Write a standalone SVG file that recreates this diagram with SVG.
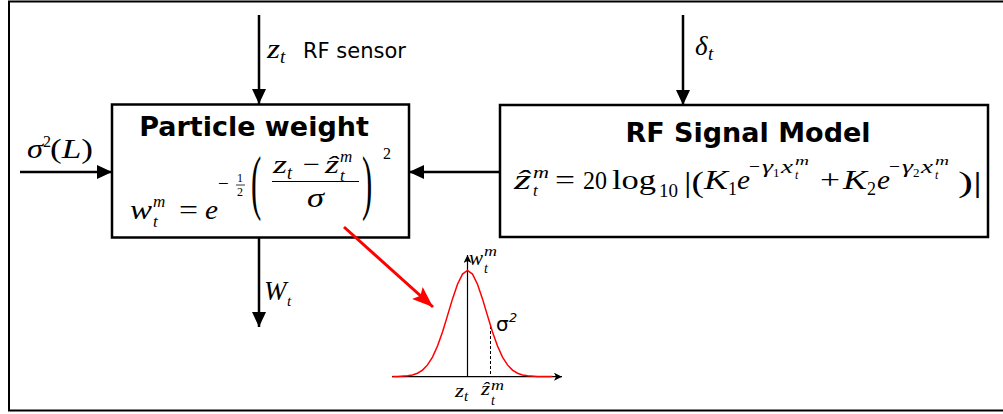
<svg xmlns="http://www.w3.org/2000/svg" width="1003" height="414" viewBox="0 0 1003 414">
<style>
.box{fill:#fff;stroke:#000;stroke-width:2.5}
.ln{stroke:#000;stroke-width:2.5;fill:none}
.mi{font-family:"Liberation Serif","DejaVu Serif",serif;font-style:italic;fill:#000}
.mr{font-family:"Liberation Serif","DejaVu Serif",serif;fill:#000}
.ti{font-family:"DejaVu Sans",sans-serif;font-weight:bold;fill:#000}
.sn{font-family:"DejaVu Sans",sans-serif;fill:#000}
</style>
<defs>
<marker id="ah" markerUnits="userSpaceOnUse" markerWidth="16" markerHeight="14" refX="15" refY="7" orient="auto">
<path d="M0,0 L15,7 L0,14 z" fill="#000"/>
</marker>
<marker id="ahr" markerUnits="userSpaceOnUse" markerWidth="22" markerHeight="16" refX="21" refY="8" orient="auto">
<path d="M0,0 L21,8 L0,16 L4,8 z" fill="#f00"/>
</marker>
<marker id="ahs" markerUnits="userSpaceOnUse" markerWidth="8" markerHeight="8" refX="8" refY="4" orient="auto">
<path d="M0,0 L8,4 L0,8 L2,4 z" fill="#000"/>
</marker>
</defs>
<rect x="9" y="1.5" width="1000" height="409" fill="#fff" stroke="#000" stroke-width="2"/>

<g id="particle-weight">
<rect class="box" x="112" y="104.5" width="297" height="133"/>
<text class="ti" x="254" y="136" font-size="27" text-anchor="middle">Particle weight</text>
<text class="mi" x="130" y="219" font-size="28" textLength="22" lengthAdjust="spacingAndGlyphs">w</text>
<text class="mi" x="153" y="207" font-size="17">m</text>
<text class="mi" x="153" y="227" font-size="17">t</text>
<text class="mr" x="179" y="219" font-size="28" textLength="19" lengthAdjust="spacingAndGlyphs">=</text>
<text class="mi" x="205" y="219" font-size="28" textLength="13" lengthAdjust="spacingAndGlyphs">e</text>
<text class="mr" x="218" y="190" font-size="19">−</text>
<text class="mr" x="237" y="182" font-size="12">1</text>
<line x1="236" y1="185" x2="245" y2="185" stroke="#000" stroke-width="0.8"/>
<text class="mr" x="237" y="196" font-size="12">2</text>
<text class="mr" font-size="44" transform="translate(251,206) scale(0.7,1.62)">(</text>
<text class="mi" x="273" y="173" font-size="26" textLength="14" lengthAdjust="spacingAndGlyphs">z</text>
<text class="mi" x="287" y="179" font-size="18">t</text>
<text class="mr" x="303" y="173" font-size="26" textLength="17" lengthAdjust="spacingAndGlyphs">−</text>
<text class="mi" x="325" y="173" font-size="26" textLength="14" lengthAdjust="spacingAndGlyphs">ẑ</text>
<text class="mi" x="340" y="162" font-size="17">m</text>
<text class="mi" x="340" y="181" font-size="17">t</text>
<line x1="272" y1="181.5" x2="359" y2="181.5" stroke="#000" stroke-width="1.1"/>
<text class="mi" x="307" y="207" font-size="27" textLength="17" lengthAdjust="spacingAndGlyphs">σ</text>
<text class="mr" font-size="44" transform="translate(362,206) scale(0.7,1.62)">)</text>
<text class="mr" x="383" y="159" font-size="16">2</text>
</g>

<g id="rf-signal-model">
<rect class="box" x="500" y="105" width="488" height="132"/>
<text class="ti" x="748" y="142" font-size="27" text-anchor="middle">RF Signal Model</text>
<text class="mi" x="514" y="189" font-size="27" textLength="17" lengthAdjust="spacingAndGlyphs">ẑ</text>
<text class="mi" x="533" y="178" font-size="17" textLength="16" lengthAdjust="spacingAndGlyphs">m</text>
<text class="mi" x="533" y="196" font-size="17">t</text>
<text class="mr" x="555" y="189" font-size="27" textLength="20" lengthAdjust="spacingAndGlyphs">=</text>
<text class="mr" x="583" y="189" font-size="26" textLength="24" lengthAdjust="spacingAndGlyphs">20</text>
<text class="mr" x="612" y="189" font-size="28" textLength="44" lengthAdjust="spacingAndGlyphs">log</text>
<text class="mr" x="659" y="197" font-size="18" textLength="19" lengthAdjust="spacingAndGlyphs">10</text>
<text class="mr" x="684" y="192" font-size="29" textLength="20" lengthAdjust="spacingAndGlyphs">|(</text>
<text class="mi" x="704" y="189" font-size="27" textLength="24" lengthAdjust="spacingAndGlyphs">K</text>
<text class="mr" x="728" y="195" font-size="18">1</text>
<text class="mi" x="737" y="189" font-size="27" textLength="13" lengthAdjust="spacingAndGlyphs">e</text>
<text class="mr" x="749" y="173" font-size="19" textLength="11" lengthAdjust="spacingAndGlyphs">−</text>
<text class="mi" x="762" y="173" font-size="19" textLength="11" lengthAdjust="spacingAndGlyphs">γ</text>
<text class="mr" x="773" y="177" font-size="13">1</text>
<text class="mi" x="781" y="173" font-size="19" textLength="12" lengthAdjust="spacingAndGlyphs">x</text>
<text class="mi" x="795" y="165" font-size="12" textLength="14" lengthAdjust="spacingAndGlyphs">m</text>
<text class="mi" x="795" y="179" font-size="12">t</text>
<text class="mr" x="820" y="189" font-size="27" textLength="20" lengthAdjust="spacingAndGlyphs">+</text>
<text class="mi" x="843" y="189" font-size="27" textLength="24" lengthAdjust="spacingAndGlyphs">K</text>
<text class="mr" x="867" y="195" font-size="18">2</text>
<text class="mi" x="877" y="189" font-size="27" textLength="13" lengthAdjust="spacingAndGlyphs">e</text>
<text class="mr" x="889" y="173" font-size="19" textLength="11" lengthAdjust="spacingAndGlyphs">−</text>
<text class="mi" x="902" y="173" font-size="19" textLength="11" lengthAdjust="spacingAndGlyphs">γ</text>
<text class="mr" x="913" y="177" font-size="13">2</text>
<text class="mi" x="921" y="173" font-size="19" textLength="12" lengthAdjust="spacingAndGlyphs">x</text>
<text class="mi" x="935" y="165" font-size="12" textLength="14" lengthAdjust="spacingAndGlyphs">m</text>
<text class="mi" x="935" y="179" font-size="12">t</text>
<text class="mr" x="958" y="192" font-size="29" textLength="24" lengthAdjust="spacingAndGlyphs">)|</text>
</g>

<g id="gaussian-plot">
<line x1="392" y1="376.7" x2="562" y2="376.7" stroke="#000" stroke-width="1.2" marker-end="url(#ahs)"/>
<line x1="467.5" y1="376.7" x2="467.5" y2="255" stroke="#000" stroke-width="1.2" marker-end="url(#ahs)"/>
<line x1="490.5" y1="326" x2="490.5" y2="376" stroke="#000" stroke-width="1" stroke-dasharray="3,2"/>
<polyline fill="none" stroke="#f00" stroke-width="1.5" points="392.5,376.5 397.5,376.4 407.5,375.8 412.5,374.9 417.5,373.2 422.5,370.1 427.5,364.9 432.5,357.1 437.5,346 442.5,331.9 447.5,315.6 452.5,298.9 457.5,284.2 462.5,274.1 467.5,270.5 472.5,274.1 477.5,284.2 482.5,298.9 487.5,315.6 492.5,331.9 497.5,346 502.5,357.1 507.5,364.9 512.5,370.1 517.5,373.2 522.5,374.9 527.5,375.8 537.5,376.4 552.5,376.5"/>
<text class="mi" x="469" y="265" font-size="20" textLength="14" lengthAdjust="spacingAndGlyphs">w</text>
<text class="mi" x="484" y="256" font-size="14" textLength="13" lengthAdjust="spacingAndGlyphs">m</text>
<text class="mi" x="484" y="273" font-size="14">t</text>
<text class="sn" x="496" y="331" font-size="20">σ</text>
<text class="sn" x="509" y="322" font-size="13" font-style="italic">2</text>
<text class="mi" x="455" y="397" font-size="19" textLength="9" lengthAdjust="spacingAndGlyphs">z</text>
<text class="mi" x="464" y="401" font-size="15">t</text>
<text class="mi" x="481" y="395" font-size="19" textLength="9" lengthAdjust="spacingAndGlyphs">ẑ</text>
<text class="mi" x="491" y="390" font-size="14" textLength="13" lengthAdjust="spacingAndGlyphs">m</text>
<text class="mi" x="491" y="405" font-size="14">t</text>
</g>

<g id="connectors">
<line class="ln" x1="259" y1="15" x2="259" y2="104" marker-end="url(#ah)"/>
<line class="ln" x1="683" y1="15" x2="683" y2="105" marker-end="url(#ah)"/>
<line class="ln" x1="20" y1="172" x2="112" y2="172" marker-end="url(#ah)"/>
<line class="ln" x1="500" y1="172" x2="409" y2="172" marker-end="url(#ah)"/>
<line class="ln" x1="259" y1="238" x2="259" y2="327" marker-end="url(#ah)"/>
<line x1="344" y1="227" x2="433" y2="307" stroke="#f00" stroke-width="3" marker-end="url(#ahr)"/>
</g>

<g id="label-zt">
<text class="mi" x="267" y="58" font-size="28" textLength="13" lengthAdjust="spacingAndGlyphs">z</text><text class="mi" x="280" y="63" font-size="19">t</text>
<text class="sn" x="303" y="58" font-size="21">RF sensor</text>
</g>
<g id="label-delta">
<text class="mi" x="695" y="55" font-size="27">δ</text><text class="mi" x="708" y="60" font-size="19">t</text>
</g>
<g id="label-sigmaL">
<text class="mi" x="27" y="158" font-size="28" textLength="16" lengthAdjust="spacingAndGlyphs">σ</text><text class="mr" x="43" y="147" font-size="16">2</text><text class="mr" x="50" y="158" font-size="28" textLength="43" lengthAdjust="spacingAndGlyphs">(<tspan class="mi">L</tspan>)</text>
</g>
<g id="label-Wt">
<text class="mi" x="264" y="300" font-size="27">W</text><text class="mi" x="287" y="306" font-size="15">t</text>
</g>
</svg>
